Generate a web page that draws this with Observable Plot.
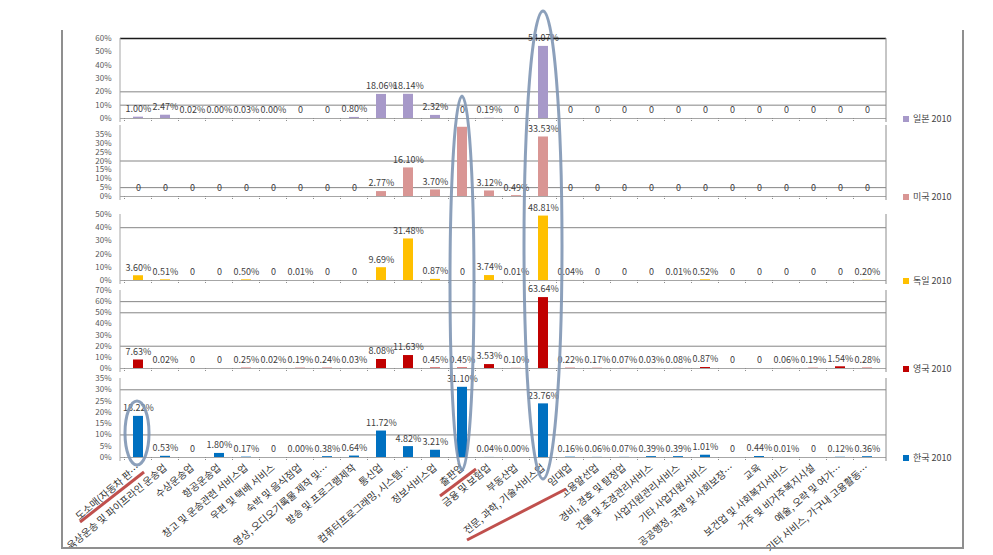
<!DOCTYPE html>
<html><head><meta charset="utf-8">
<script src="https://cdn.jsdelivr.net/npm/d3@7"></script>
<script src="https://cdn.jsdelivr.net/npm/@observablehq/plot@0.6"></script>
<style>
body{margin:0;background:#fff;}
#chart{position:relative;width:993px;height:555px;overflow:hidden;font-family:"Noto Sans CJK KR","DejaVu Sans",sans-serif;}
#chart svg{position:absolute;left:0;top:0;}
.leg{position:absolute;font-size:9px;color:#444;white-space:nowrap;display:flex;align-items:center;}
.leg span.sw{display:inline-block;width:6px;height:6px;margin-right:4px;}
</style></head><body><div id="chart"></div>
<script>
const categories = [
 "도소매(자동차 판…", "육상운송 및 파이프라인 운송업", "수상운송업", "항공운송업", "창고 및 운송관련 서비스업",
 "우편 및 택배 서비스", "숙박 및 음식점업", "영상, 오디오기록물 제작 및…", "방송 및 프로그램제작", "통신업",
 "컴퓨터프로그래밍, 시스템…", "정보서비스업", "출판업", "금융 및 보험업", "부동산업",
 "전문, 과학, 기술서비스업", "임대업", "고용알선업", "경비, 경호 및 탐정업", "건물 및 조경관리서비스",
 "사업지원관리서비스", "기타 사업지원서비스", "공공행정, 국방 및 사회보장…", "교육", "보건업 및 사회복지서비스",
 "거주 및 비거주복지시설", "예술, 오락 및 여가…", "기타 서비스, 가구내 고용활동…"];

const japan   = [1.00,2.47,0.02,0.004,0.03,0.004,0,0,0.80,18.06,18.14,2.32,0,0.19,0,54.07,0,0,0,0,0,0,0,0,0,0,0,0];
const usa     = [0,0,0,0,0,0,0,0,0,2.77,16.10,3.70,39.00,3.12,0.49,33.53,0,0,0,0,0,0,0,0,0,0,0,0];
const germany = [3.60,0.51,0,0,0.50,0,0.01,0,0,9.69,31.48,0.87,0,3.74,0.01,48.81,0.04,0,0,0,0.01,0.52,0,0,0,0,0,0.20];
const uk      = [7.63,0.02,0,0,0.25,0.02,0.19,0.24,0.03,8.08,11.63,0.45,0.45,3.53,0.10,63.64,0.22,0.17,0.07,0.03,0.08,0.87,0,0,0.06,0.19,1.54,0.28];
const korea   = [18.22,0.53,0,1.80,0.17,0,0.004,0.38,0.64,11.72,4.82,3.21,31.10,0.04,0.004,23.76,0.16,0.06,0.07,0.39,0.39,1.01,0,0.44,0.01,0,0.12,0.36];

const seriesNames  = ["일본 2010","미국 2010","독일 2010","영국 2010","한국 2010"];
const seriesValues = [japan, usa, germany, uk, korea];
const seriesColors = ["#A799C9","#D99694","#FFC000","#C00000","#0070C0"];
const yMaxes       = [60, 40, 50, 70, 35];
const yTicks       = [[0,10,20,30,40,50,60],[0,5,10,15,20,25,30,35],[0,10,20,30,40,50],[0,10,20,30,40,50,60,70],[0,5,10,15,20,25,30,35]];
const yGrids       = [[20,10],[20,5],[40],[60,50,20],[30,10]];

// layout (pixels)
const W = 993, H = 555, ML = 120, MR = 107;
const panels = [[38,118],[125,196],[214,280],[290,368],[378,457]];

const fmt = v => v === 0 ? "0" : v.toFixed(2) + "%";
const chart = document.getElementById("chart");
let xScale = null;

seriesNames.forEach((name, k) => {
  const [top, bottom] = panels[k];
  const data = seriesValues[k].map((v, i) => ({cat: categories[i], v}));
  const last = k === seriesNames.length - 1;
  const marks = [
    Plot.ruleY(yGrids[k], {stroke: "#858585", strokeWidth: 1}),
    Plot.ruleY([0], {stroke: "#a6a6a6", strokeWidth: 1}),
    Plot.barY(data, {x: "cat", y: "v", fill: seriesColors[k]}),
    Plot.text(data, {x: "cat", y: "v", text: d => fmt(d.v), dy: -8, fontSize: 9, fill: "#404040", clip: k === 1}),
    Plot.axisY({ticks: yTicks[k], tickFormat: d => d + "%", tickSize: 0, tickPadding: 9, fontSize: 8, fill: "#595959", label: null})
  ];
  if (k === 0) marks.push(Plot.ruleY([yMaxes[0]], {stroke: "#1a1a1a", strokeWidth: 1.5}));
  if (last) marks.push(Plot.axisX({tickRotate: -40, tickSize: 0, tickPadding: 9, dx: 0, fontSize: 10, fill: "#333", label: null}));
  const plot = Plot.plot({
    width: W, height: H,
    marginLeft: ML, marginRight: MR, marginTop: top, marginBottom: H - bottom,
    style: {background: "transparent", overflow: "visible", fontFamily: "'Noto Sans CJK KR','DejaVu Sans',sans-serif"},
    x: {domain: categories, paddingInner: 0.62, paddingOuter: 0.31, axis: last ? undefined : null},
    y: {domain: [0, yMaxes[k]]},
    marks
  });
  chart.appendChild(plot);
  const xs = plot.scale("x");
  xScale = xs;
  const g = d3.select(plot).append("g").attr("stroke", "#8c8c8c");
  const half = (xs.step - xs.bandwidth) / 2;
  categories.forEach(c => {
    const bx = xs.apply(c) - half;
    g.append("line").attr("x1", bx).attr("x2", bx).attr("y1", bottom).attr("y2", bottom + 3).attr("stroke-dasharray", "1,1");
  });
  g.append("line").attr("x1", ML).attr("x2", ML).attr("y1", top).attr("y2", bottom + 4).attr("stroke", "#a6a6a6");
  g.append("line").attr("x1", W - MR).attr("x2", W - MR).attr("y1", top).attr("y2", bottom + 4).attr("stroke", "#8c8c8c");

  const leg = document.createElement("div");
  leg.className = "leg";
  leg.style.left = "903px";
  leg.style.top = (bottom - 6) + "px";
  leg.innerHTML = `<span class="sw" style="background:${seriesColors[k]}"></span>${name}`;
  chart.appendChild(leg);
});

// annotation overlay (frame, ellipses, underlines)
const center = i => xScale.apply(categories[i]) + xScale.bandwidth / 2;
const ov = d3.create("svg").attr("width", W).attr("height", H).style("overflow", "visible");
ov.append("path").attr("d", `M62,30V548H963V30`).attr("fill", "none").attr("stroke", "#8f8f8f").attr("stroke-width", 2);
const ell = [[center(0) - 1, 433, 12, 32], [center(12), 283, 12, 187], [center(15), 245, 19, 234]];
ell.forEach(([cx, cy, rx, ry]) => ov.append("ellipse").attr("cx", cx).attr("cy", cy).attr("rx", rx).attr("ry", ry)
  .attr("fill", "none").attr("stroke", "#7f96b4").attr("stroke-width", 3).attr("opacity", 0.9));
const red = [[center(0) - 58, 522, center(0) + 6, 472], [center(12) - 22, 496, center(12) + 14, 469], [center(15) - 76, 540, center(15) + 23, 489]];
red.forEach(([x1, y1, x2, y2]) => ov.append("line").attr("x1", x1).attr("y1", y1).attr("x2", x2).attr("y2", y2)
  .attr("stroke", "#c0504d").attr("stroke-width", 3));
chart.appendChild(ov.node());
</script></body></html>
